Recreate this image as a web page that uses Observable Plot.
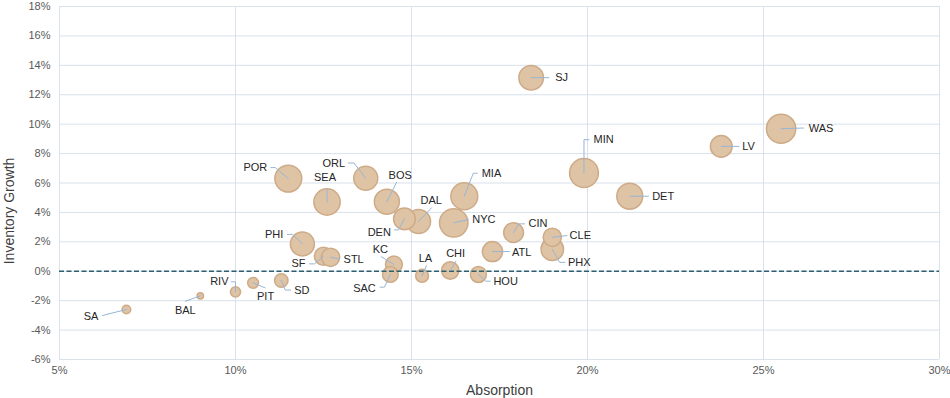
<!DOCTYPE html>
<html><head><meta charset="utf-8">
<script src="https://cdn.jsdelivr.net/npm/d3@7"></script>
<script src="https://cdn.jsdelivr.net/npm/@observablehq/plot@0.6"></script>
<style>html,body{margin:0;padding:0;background:#fff;}</style>
</head><body><div id="chart"></div>
<script>
// ---- data ----
const markets = ["SA","BAL","RIV","PIT","SD","PHI","SF","STL","POR","SEA","ORL","BOS","DAL","DEN","KC","SAC","LA","CHI","HOU","MIA","NYC","CIN","ATL","CLE","PHX","SJ","MIN","DET","LV","WAS"];
const absorption = [6.9,9.0,10.0,10.5,11.3,11.9,12.5,12.7,11.5,12.6,13.7,14.3,15.2,14.8,14.5,14.4,15.3,16.1,16.9,16.5,16.2,17.9,17.3,19.0,19.0,18.4,19.9,21.2,23.8,25.5];
const inventoryGrowth = [-2.6,-1.67,-1.4,-0.79,-0.63,1.86,1.02,0.95,6.3,4.71,6.32,4.73,3.38,3.56,0.46,-0.22,-0.31,0.05,-0.22,5.1,3.29,2.63,1.34,2.31,1.49,13.16,6.68,5.1,8.49,9.69];
const marketSize = [20,11,28,32,49,156,90,90,196,188,156,169,156,128,77,67,45,81,69,196,219,106,110,90,137,164,225,182,128,231];
const xTicks = [5,10,15,20,25,30];
const yTicks = [-6,-4,-2,0,2,4,6,8,10,12,14,16,18];

// ---- label layout (pixel offsets from bubble centre) ----
const labelAnchor = ["end","middle","end","middle","start","end","end","start","end","middle","end","middle","middle","end","middle","end","middle","middle","start","start","start","start","start","start","start","start","start","start","start","start"];
const labelOffset = [[-28,7],[-15,15],[-7,-10],[12.5,13.5],[13,10],[-19,-9],[-18,7.6],[13,2.3],[-21,-10.7],[-2,-25],[-20.7,-14.4],[13.3,-26.7],[12.7,-21.3],[-13.6,14],[-13.6,-15],[-14.6,13.7],[3.4,-17],[5.4,-17],[15,7],[17.4,-23],[18.6,-3],[15,-9],[19.6,0.5],[17.3,-1.7],[15.7,13.6],[24,0],[9.5,-33.3],[22.4,0],[21,0],[27.7,-0.5]];
const leaderPath = [
  [[-24,6]],[[-15,5.5]],[[0,-10],[-4,-10]],[[12,5]],[[4,9.5],[9.5,9.5]],
  [[-10,-9.5],[-15,-9.5]],[[-9,7.6],[-14,7.6]],[[9,1.7]],[[-13,-11],[-17.5,-11]],[[0,-13]],
  [[-11.7,-15.3],[-17.4,-15.3]],[[9.7,-19.3]],[[13,-13.7]],[[-6,11],[-10,11]],[[-12.6,-7.7]],
  [[-6,12.7],[-10.3,12.7]],[[4.4,-10.3]],[[5.7,-9.3]],[[7.4,6.7],[11.7,6.7]],[[9,-23],[13,-23]],
  [[14.6,-3.3]],[[5.3,-8.7],[11,-8.7]],[[17,0]],[[14.5,-1.7]],[[7.3,13],[12.7,13]],
  [[17.7,0]],[[0,-33.3],[5,-33.3]],[[18.7,0]],[[17.7,0]],[[22.5,-0.7]]
];

// ---- chart geometry ----
const W = 950, H = 398, mL = 59, mR = 11, mT = 6, mB = 39;
const xDom = [5,30], yDom = [-6,18];
const kx = (W - mL - mR) / (xDom[1] - xDom[0]);
const ky = (H - mT - mB) / (yDom[1] - yDom[0]);

const data = markets.map((name, i) => ({
  name, x: absorption[i], y: inventoryGrowth[i], size: marketSize[i],
  anchor: labelAnchor[i],
  lx: absorption[i] + labelOffset[i][0] / kx,
  ly: inventoryGrowth[i] - labelOffset[i][1] / ky
}));
const leaders = [];
data.forEach((d, i) => {
  leaders.push({name: d.name, x: d.x, y: d.y});
  leaderPath[i].forEach(([dx, dy]) => leaders.push({name: d.name, x: d.x + dx / kx, y: d.y - dy / ky}));
});

const pct = d => d + "%";
const font = "'Liberation Sans', Arial, sans-serif";
const textMark = anchor => Plot.text(data.filter(d => d.anchor === anchor), {
  x: "lx", y: "ly", text: "name", textAnchor: anchor, lineAnchor: "middle", fill: "#262626", fontSize: 11
});

const chart = Plot.plot({
  width: W, height: H,
  marginLeft: mL, marginRight: mR, marginTop: mT, marginBottom: mB,
  style: {fontFamily: font, fontSize: "11px", color: "#595959", background: "#fff", overflow: "visible"},
  x: {domain: xDom, ticks: xTicks, tickFormat: pct, tickSize: 0, tickPadding: 7, label: null},
  y: {domain: yDom, ticks: yTicks, tickFormat: pct, tickSize: 0, tickPadding: 9, label: null},
  r: {type: "sqrt", domain: [0, 231], range: [0, 14.6]},
  marks: [
    Plot.ruleX(xTicks, {stroke: "#d8e1ec", strokeWidth: 1}),
    Plot.ruleY(yTicks, {stroke: "#d8e1ec", strokeWidth: 1}),
    Plot.dot(data, {x: "x", y: "y", r: "size", fill: "#dfc3a5", fillOpacity: 1, stroke: "#cdab88", strokeWidth: 1.5}),
    Plot.ruleY([0], {stroke: "#2d5f6e", strokeWidth: 1.5, strokeDasharray: "5,2.5"}),
    Plot.line(leaders, {x: "x", y: "y", z: "name", stroke: "#97b6d6", strokeWidth: 1, curve: "linear"}),
    textMark("start"), textMark("middle"), textMark("end"),
    Plot.text(["Absorption"], {frameAnchor: "bottom", dy: 31, textAnchor: "middle", lineAnchor: "middle", fontSize: 14, fill: "#404040"}),
    Plot.text(["Inventory Growth"], {frameAnchor: "left", dx: -50, dy: 28, textAnchor: "middle", lineAnchor: "middle", rotate: -90, fontSize: 14, fill: "#404040"})
  ]
});
document.getElementById("chart").appendChild(chart);
</script>
</body></html>
